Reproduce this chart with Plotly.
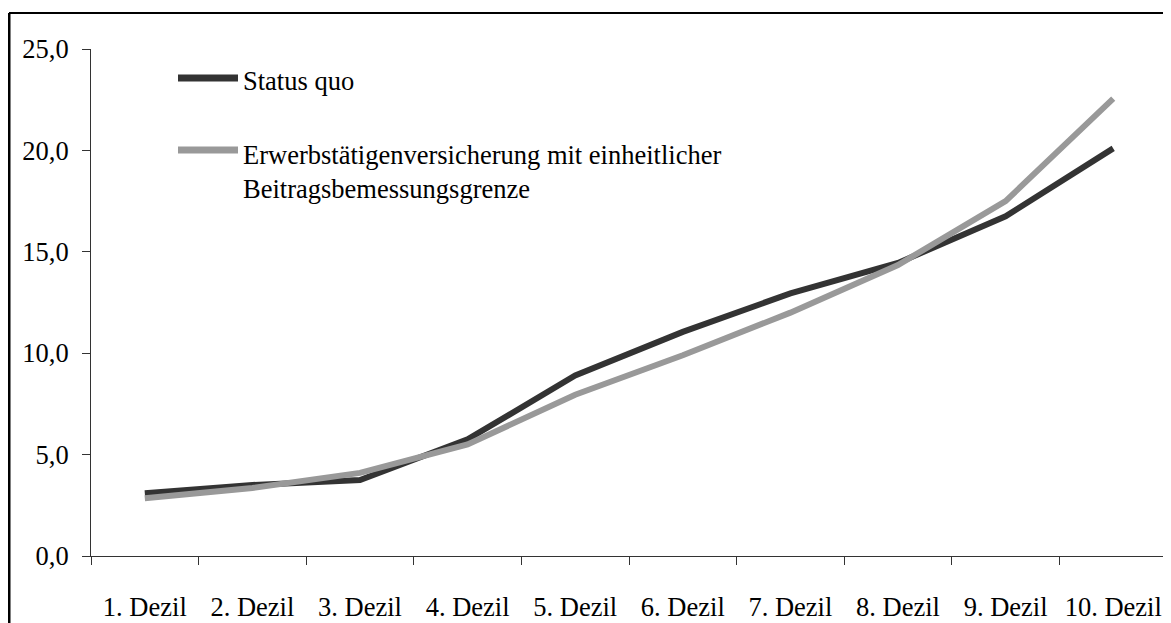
import plotly.graph_objects as go

categories = ["1. Dezil", "2. Dezil", "3. Dezil", "4. Dezil", "5. Dezil",
              "6. Dezil", "7. Dezil", "8. Dezil", "9. Dezil", "10. Dezil"]
status_quo = [3.1, 3.5, 3.75, 5.75, 8.9, 11.05, 12.95, 14.45, 16.75, 20.1]
erwerb = [2.85, 3.35, 4.1, 5.5, 7.95, 9.9, 12.0, 14.35, 17.5, 22.55]
series_names = ["Status quo",
                "Erwerbstätigenversicherung mit einheitlicher<br>Beitragsbemessungsgrenze"]
y_ticks = [0, 5, 10, 15, 20, 25]
y_tick_labels = ["0,0", "5,0", "10,0", "15,0", "20,0", "25,0"]

OFF = 8  # page body margin
W, H = 1171 - OFF, 623 - OFF
L, T = 91 - OFF, 49 - OFF
B = H - (556.3 - OFF)
R = W - (1167 - OFF)
pw, ph = W - L - R, H - T - B


def px(x):
    return (x - OFF - L) / pw


def py(y):
    return (H - B - (y - OFF)) / ph


DARK = "#333333"
GRAY = "#999999"
FONT = "Liberation Serif, Times New Roman, serif"
FS = 26.5

fig = go.Figure()
fig.add_trace(go.Scatter(x=categories, y=status_quo, mode="lines",
                         line=dict(color=DARK, width=6), name=series_names[0],
                         showlegend=False))
fig.add_trace(go.Scatter(x=categories, y=erwerb, mode="lines",
                         line=dict(color=GRAY, width=6), name=series_names[1],
                         showlegend=False))

shapes = []
for yy, col in [(78, DARK), (150, GRAY)]:
    shapes.append(dict(type="line", xref="paper", yref="paper",
                       x0=px(178), x1=px(238), y0=py(yy), y1=py(yy),
                       line=dict(color=col, width=7), layer="above"))
shapes.append(dict(type="line", xref="paper", yref="paper",
                   x0=px(9), x1=px(9), y0=py(13), y1=py(H + 40),
                   line=dict(color="black", width=3)))
shapes.append(dict(type="line", xref="paper", yref="paper",
                   x0=px(9), x1=px(W + 40), y0=py(13), y1=py(13),
                   line=dict(color="black", width=2)))

annotations = [
    dict(xref="paper", yref="paper", x=px(241), y=py(81), text=series_names[0],
         showarrow=False, xanchor="left", yanchor="middle", align="left",
         font=dict(family=FONT, size=FS, color="black")),
    dict(xref="paper", yref="paper", x=px(241), y=py(172), text=series_names[1],
         showarrow=False, xanchor="left", yanchor="middle", align="left",
         font=dict(family=FONT, size=FS, color="black")),
]

fig.update_layout(
    width=W, height=H,
    margin=dict(l=L, r=R, t=T, b=B, pad=0, autoexpand=False),
    paper_bgcolor="white", plot_bgcolor="white",
    font=dict(family=FONT, size=FS, color="black"),
    shapes=shapes, annotations=annotations,
    showlegend=False,
    xaxis=dict(type="category", range=[-0.5, len(categories) - 0.5],
               showgrid=False, zeroline=False, automargin=False,
               showline=True, linecolor="#333333", linewidth=1,
               ticks="outside", ticklen=8, tickcolor="#333333", tickwidth=1,
               tickson="boundaries", ticklabelstandoff=27,
               tickfont=dict(family=FONT, size=FS, color="black")),
    yaxis=dict(range=[0, 25], tickvals=y_ticks, ticktext=y_tick_labels,
               showgrid=False, zeroline=False, automargin=False,
               showline=True, linecolor="#333333", linewidth=1,
               ticks="outside", ticklen=8, tickcolor="#333333", tickwidth=1,
               ticklabelstandoff=8,
               tickfont=dict(family=FONT, size=FS, color="black")),
)

fig.write_html("out.html")
